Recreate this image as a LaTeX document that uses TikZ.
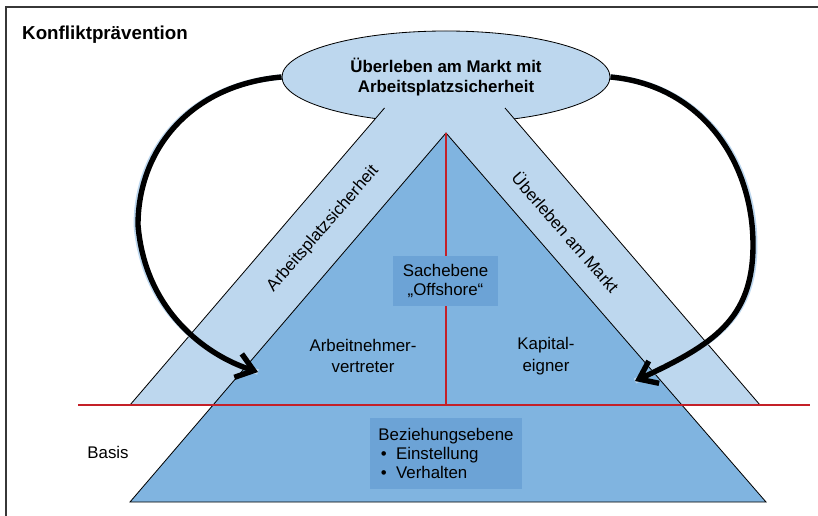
\documentclass[tikz,border=0pt]{standalone}
\usepackage{fontspec}
\setmainfont{Liberation Sans}
\usepackage{tikz}
\usetikzlibrary{shapes.geometric,arrows.meta}

\definecolor{bandblue}{RGB}{189,215,238}
\definecolor{pyrblue}{RGB}{128,180,224}
\definecolor{boxblue}{RGB}{108,163,214}
\definecolor{linered}{RGB}{196,32,40}
\definecolor{framegray}{RGB}{55,55,55}

\tikzset{
    every node/.style={font=\fontsize{14.4}{17}\selectfont, inner sep=0pt},
    outline/.style={draw=black, line width=0.7pt},
    levelbox/.style={fill=boxblue, align=center},
    sidelabel/.style={align=center, font=\fontsize{14.4}{18.7}\selectfont},
    sidearrow/.style={line width=4.6pt, -{Straight Barb[length=14pt,width=21pt]}},
    arrowglow/.style={line width=4.6pt, draw=bandblue},
}

\begin{document}
\begin{tikzpicture}[x=0.03cm, y=-0.03cm]
    \useasboundingbox (0,0) rectangle (818,516);

    % Frame
    \draw[framegray, line width=1.6pt] (6,516) -- (6,7) -- (818,7);

    % Title and base label
    \node[anchor=west, font=\fontsize{16}{19}\selectfont\bfseries] (title) at (22,35) {Konfliktprävention};
    \node (basis) at (108,452) {Basis};

    % Goal on top
    \node[ellipse, outline, fill=bandblue, minimum width=9.84cm, minimum height=2.76cm,
          align=center, font=\fontsize{14.4}{17}\selectfont\bfseries] (goal) at (446,77)
        {Überleben am Markt mit\\Arbeitsplatzsicherheit};

    % Bands on both sides, laid over the goal
    \fill[bandblue] (130,405) -- (384.5,108) -- (505,108) -- (760,405) -- cycle;
    \draw[outline] (384.5,108) -- (130,405) -- (760,405) -- (505,108);

    % The pyramid
    \filldraw[outline, fill=pyrblue] (446,133) -- (766,502) -- (130,502) -- cycle;

    % Red split lines
    \draw[linered, line width=1.3pt] (446,133) -- (446,405);
    \draw[linered, line width=1.3pt] (78,405) -- (810,405);

    % Labels in the bands
    \node[rotate=49] (jobs) at (323,229) {Arbeitsplatzsicherheit};
    \node[rotate=-49] (market) at (566,232) {Überleben am Markt};

    % Both parties
    \node[sidelabel] (workers) at (363,356) {Arbeitnehmer-\\vertreter};
    \node[sidelabel] (owners) at (546,356) {Kapital-\\eigner};

    % Levels
    \node[levelbox, minimum width=3.15cm, minimum height=1.5cm] (fact) at (445.5,281)
        {Sachebene\\„Offshore“};
    \node[levelbox, minimum width=4.56cm, minimum height=2.13cm, align=left,
          font=\fontsize{14.4}{16.2}\selectfont] (relation) at (446,453.5)
        {Beziehungsebene\\\hspace*{2pt}\textbullet\hspace{8pt}Einstellung\\\hspace*{2pt}\textbullet\hspace{8pt}Verhalten};

    % Arrows from the goal down to the parties
    \coordinate (tipL) at (258,372);
    \coordinate (tipR) at (635,381);
    \draw[arrowglow, xshift=-1.5] (goal.west) .. controls (190,85) and (138,150) .. (138,225)
        .. controls (145,310) and (205,355) .. (tipL);
    \draw[arrowglow, xshift=1.5] (goal.east) .. controls (700,85) and (753,160) .. (753,245)
        .. controls (753,320) and (712,345) .. (tipR);
    \draw[sidearrow] (goal.west) .. controls (190,85) and (138,150) .. (138,225)
        .. controls (145,310) and (205,355) .. (tipL);
    \draw[sidearrow] (goal.east) .. controls (700,85) and (753,160) .. (753,245)
        .. controls (753,320) and (712,345) .. (tipR);
\end{tikzpicture}
\end{document}
